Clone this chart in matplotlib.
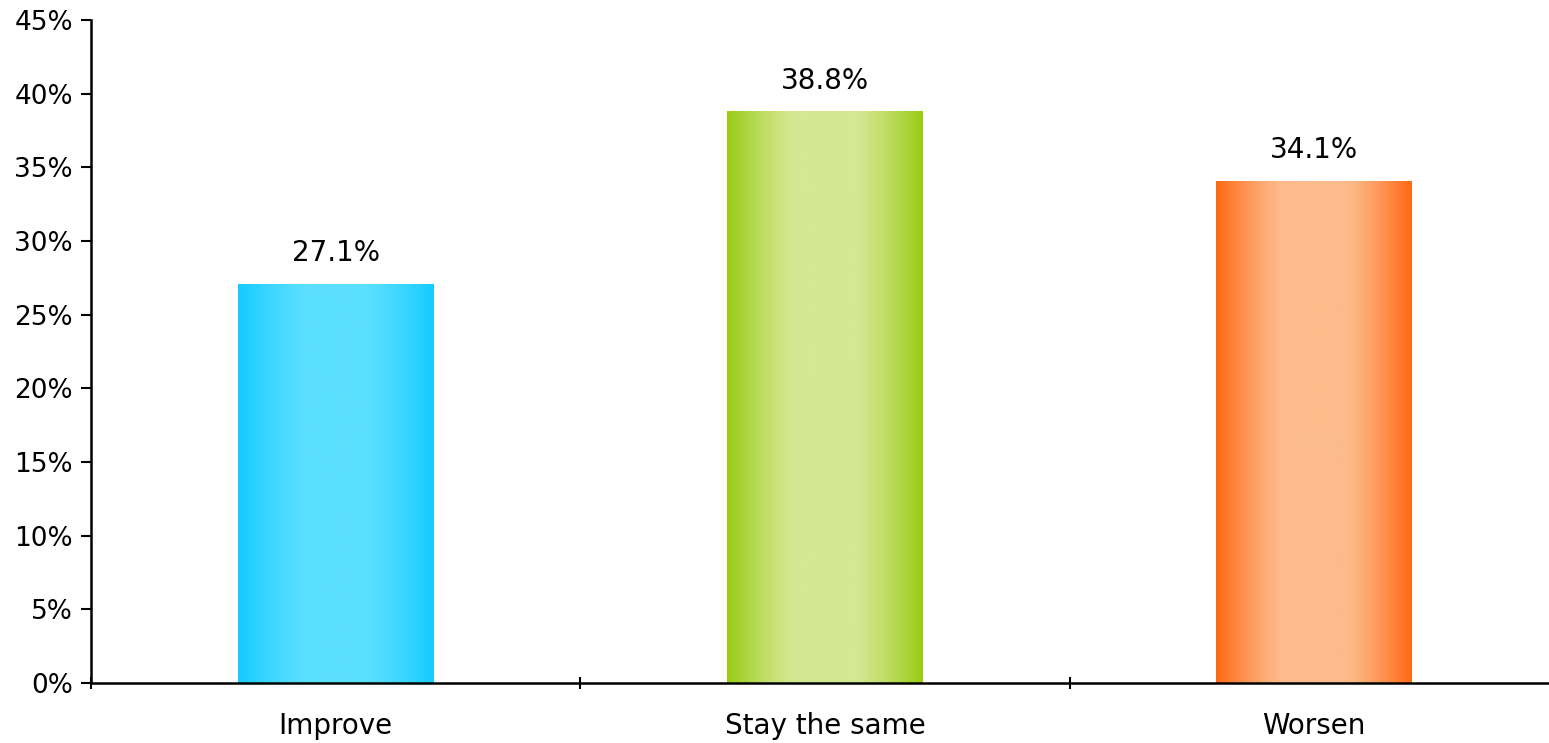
import numpy as np
import matplotlib.pyplot as plt
from matplotlib.colors import LinearSegmentedColormap
from matplotlib.ticker import FuncFormatter

categories = ["Improve", "Stay the same", "Worsen"]
values = [27.1, 38.8, 34.1]
edge_colors = ["#14CBFF", "#99CC12", "#FF6914"]
center_colors = ["#5ADFFF", "#D4E792", "#FDBB8C"]

fig = plt.figure(figsize=(15.49, 7.43), dpi=100)
ax = fig.add_axes([0.0587, 0.0808, 0.9477, 0.8923])

x = np.arange(len(categories))
bars = ax.bar(x, values, width=0.4, color="none", edgecolor="none")

t = np.linspace(0, 1, 256)
prof = np.clip(1.15 * np.sin(np.pi * t), 0, 1)[None, :]
for b, c0, c1 in zip(bars, edge_colors, center_colors):
    cmap = LinearSegmentedColormap.from_list("g", [c0, c1])
    x0, y0 = b.get_x(), b.get_y()
    im = ax.imshow(prof, cmap=cmap, aspect="auto", vmin=0, vmax=1,
                   extent=[x0, x0 + b.get_width(), y0, y0 + b.get_height()],
                   zorder=2)
    im.set_clip_path(b)
    ax.annotate(f"{b.get_height():.1f}%", (b.get_x() + b.get_width() / 2, b.get_height()),
                xytext=(0, 12), textcoords="offset points", ha="center", va="bottom",
                fontsize=20)

ax.set_xlim(-0.5, 2.5)
ax.set_ylim(0, 45)
ax.set_yticks(np.arange(0, 46, 5))
ax.yaxis.set_major_formatter(FuncFormatter(lambda v, p: f"{v:.0f}%"))
ax.set_xticks(x)
ax.set_xticklabels(categories)
ax.set_xticks([-0.5, 0.5, 1.5, 2.5], minor=True)
ax.tick_params(axis="x", which="major", length=0, pad=21, labelsize=20)
ax.tick_params(axis="x", which="minor", length=9, width=1.5, direction="inout")
ax.tick_params(axis="y", length=7, width=1.5, labelsize=19, pad=6)

for s in ["top", "right"]:
    ax.spines[s].set_visible(False)
ax.spines["left"].set_linewidth(1.8)
ax.spines["bottom"].set_linewidth(1.8)

fig.savefig("out.png", dpi=100)
